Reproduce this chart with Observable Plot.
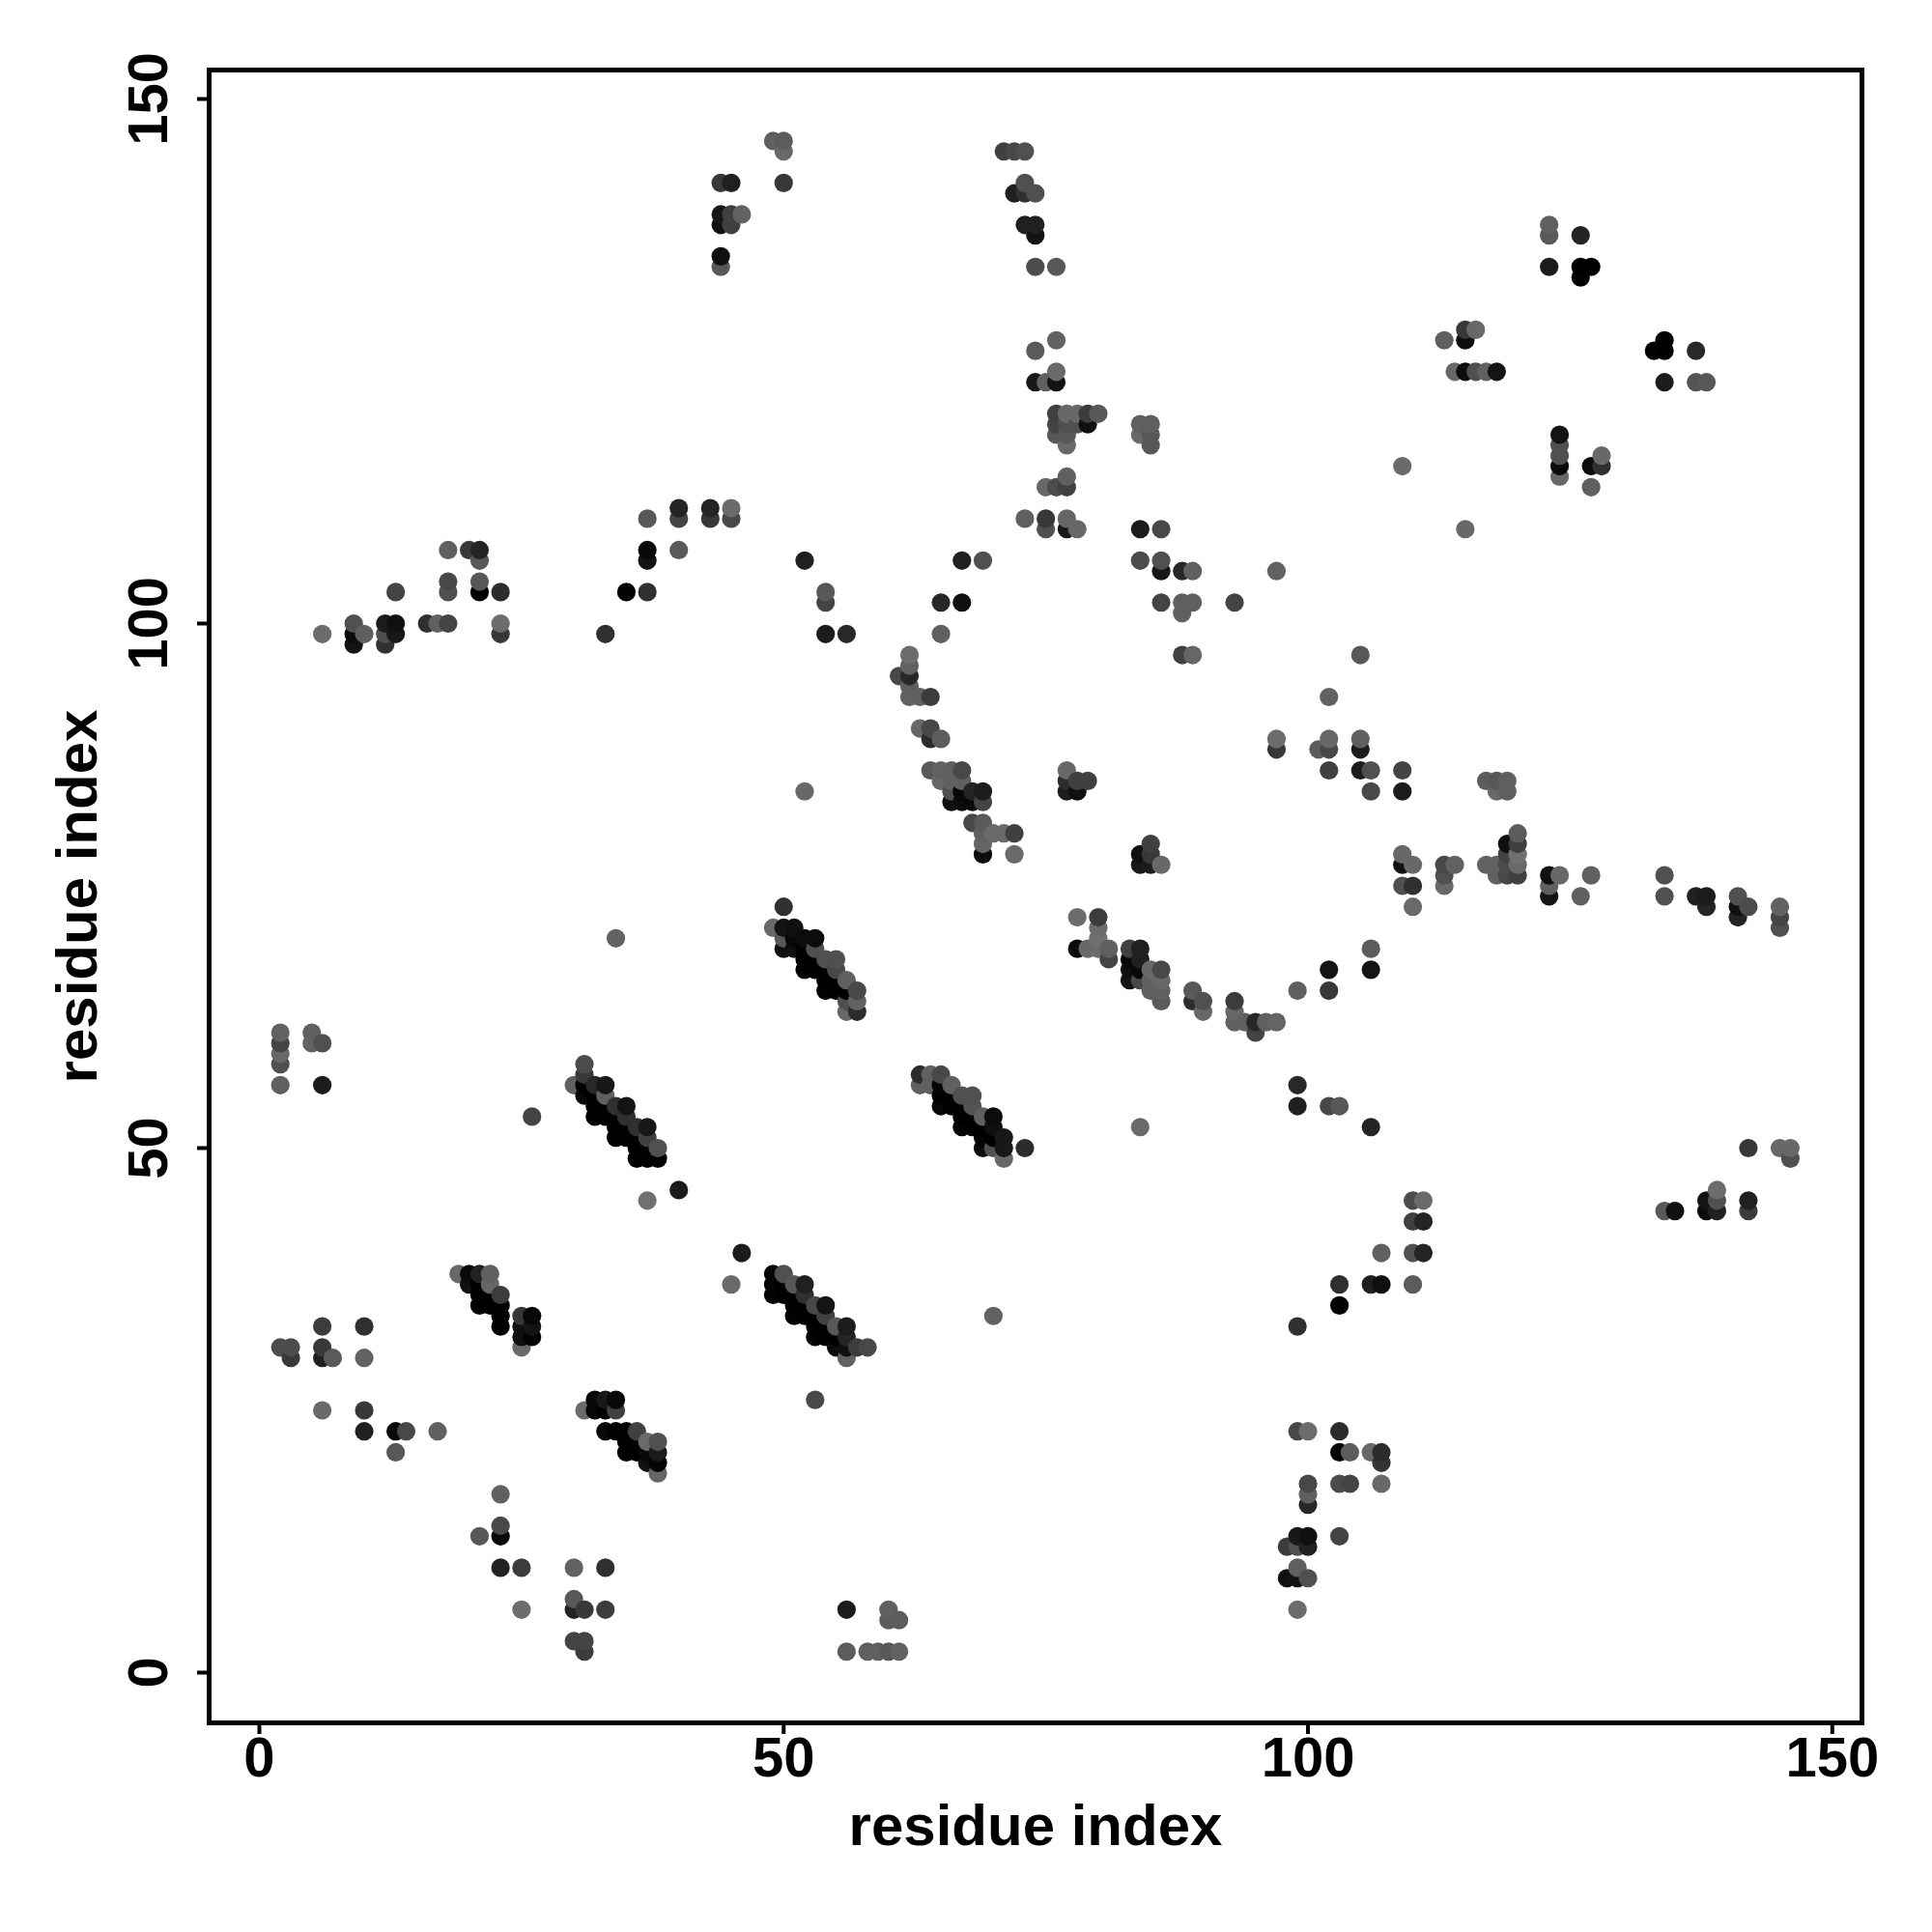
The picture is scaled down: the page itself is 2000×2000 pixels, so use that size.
<!DOCTYPE html>
<html>
<head>
<meta charset="utf-8">
<script src="https://cdn.jsdelivr.net/npm/d3@7"></script>
<script src="https://cdn.jsdelivr.net/npm/@observablehq/plot@0.6"></script>
<style>html,body{margin:0;padding:0;background:#fff}</style>
</head>
<body>
<div id="chart"></div>
<script>
// Each contact: [residue i, residue j, grey level]
const tickValues = [0, 50, 100, 150];
const axisLabel = "residue index";

const lowLeft = [
[2,31,76],[3,31,76],[3,30,56],[6,33,60],[6,31,56],[6,30,32],[7,30,90],[10,33,48],[10,30,98],[6,25,106],[10,25,56],[10,23,32],
[13,23,8],[14,23,72],[17,23,96],[13,21,88],[23,17,96],[23,14,72],[23,13,8],[21,13,88],[23,10,34],[25,10,60],[30,10,98],[33,10,48],
[25,6,108],[30,7,88],[30,6,36],[31,6,56],[33,6,60],[30,3,68],[31,3,68],[31,2,60]
];
const strandA = [
[19,38,104],[20,38,10],[21,38,34],[22,38,96],[22,37,102],[20,37,16],[21,37,0],[21,36,0],[23,36,60],[22,36,0],[21,35,0],[22,35,0],
[23,35,0],[23,34,0],[23,33,0],[25,34,56],[26,34,8],[25,33,16],[26,33,20],[25,32,16],[26,32,4],[25,31,106]
];
const strandB = [
[31,25,108],[32,26,8],[33,26,24],[34,26,8],[32,25,8],[33,25,0],[34,25,64],[33,23,8],[34,23,0],[35,23,0],[36,23,64],[35,22,0],
[36,22,0],[37,22,106],[38,22,80],[35,21,0],[36,21,0],[37,21,8],[38,21,26],[37,20,16],[38,20,4],[38,19,102]
];
const strandC = [
[31,58,76],[31,57,56],[30,56,96],[32,56,40],[33,56,24],[31,56,0],[31,55,8],[32,55,0],[33,55,96],[32,54,0],[33,54,0],[34,54,48],
[35,54,20],[32,53,0],[33,53,0],[34,53,0],[35,53,48],[34,52,0],[35,52,0],[36,52,48],[37,52,24],[34,51,0],[35,51,0],[36,51,0],
[37,51,64],[38,50,80],[36,50,0],[37,50,0],[36,49,0],[37,49,0],[38,49,0],[26,53,68],[37,45,112],[40,46,28]
];
const strandD = [
[49,38,4],[50,38,80],[49,37,4],[50,37,0],[51,37,88],[52,37,32],[49,36,4],[50,36,0],[51,36,0],[52,36,48],[51,35,0],[52,35,0],
[53,35,72],[54,35,20],[51,34,4],[52,34,0],[53,34,0],[54,34,64],[53,33,0],[54,33,0],[55,33,88],[56,33,28],[53,32,4],[54,32,0],
[55,32,0],[56,32,36],[55,31,12],[56,31,16],[57,31,60],[58,31,72],[56,30,98],[53,26,72],[46,40,28],[45,37,106],[70,34,98]
];
const strandE = [
[50,73,48],[49,71,104],[50,71,20],[51,71,16],[50,70,88],[51,70,8],[52,70,12],[53,70,12],[50,69,16],[51,69,16],[52,69,0],[53,69,80],
[52,68,0],[53,68,0],[54,68,80],[55,68,80],[52,67,4],[53,67,0],[54,67,0],[55,67,72],[54,66,0],[55,66,0],[56,66,96],[54,65,4],
[55,65,0],[56,65,0],[57,65,72],[56,64,80],[57,64,98],[56,63,104],[57,63,44],[34,70,98]
];
const strandF = [
[63,57,44],[64,57,96],[65,57,72],[63,56,96],[64,56,96],[65,56,4],[66,56,96],[65,55,0],[66,55,0],[67,55,80],[68,55,80],[65,54,8],
[66,54,0],[67,54,0],[68,54,84],[67,53,0],[68,53,0],[69,53,96],[70,53,12],[67,52,4],[68,52,0],[69,52,0],[70,52,16],[69,51,4],
[70,51,0],[71,51,24],[69,50,12],[70,50,80],[71,50,24],[73,50,44],[71,49,104],[84,52,106]
];
const midArc = [
[78,72,108],[80,72,60],[80,71,108],[80,70,112],[78,69,12],[79,69,104],[80,69,108],[81,69,96],[81,68,68],[83,69,64],[84,69,32],
[83,68,8],[84,68,32],[83,67,16],[84,67,8],[85,67,104],[86,67,72],[83,66,20],[84,66,72],[85,66,96],[86,66,104],[85,65,96],[86,65,96],
[86,64,90],[89,65,88],[89,64,44],[90,64,80],[90,63,104],[93,64,60],[93,63,104],[93,62,96],[94,62,96],[95,62,40],[95,61,68],[96,62,96],
[97,62,100],[99,65,96],[102,65,56],[102,67,20],[106,67,20],[106,69,92],[99,56,40],[99,54,32],[102,54,72],[103,54,88],[106,52,36]
];
const upperArc = [
[62,97,108],[62,96,98],[61,95,72],[62,95,40],[62,94,96],[62,93,98],[63,93,96],[64,93,60],[63,90,102],[64,90,72],[64,89,44],[65,89,92],
[64,86,88],[65,86,98],[66,86,96],[67,86,72],[65,85,104],[66,85,96],[67,85,96],[66,84,80],[67,84,8],[68,84,36],[69,84,28],[66,83,16],
[67,83,12],[68,83,8],[69,83,68],[68,81,72],[69,81,90],[69,80,96],[70,80,106],[71,80,106],[72,80,64],[69,79,100],[69,78,12],[72,78,106],
[77,86,104],[77,85,44],[78,85,64],[79,85,64],[77,84,28],[78,84,16],[85,79,64],[84,78,16],[85,78,56],[84,77,24],[85,77,28],[86,77,104],
[52,84,104]
];
const rightMid = [
[97,89,108],[97,88,56],[101,88,92],[102,89,104],[102,88,72],[102,86,64],[102,93,98],[105,97,88],[105,89,96],[105,88,28],[105,86,28],
[106,86,80],[106,84,72],[109,86,68],[109,84,28],[117,85,92],[118,85,88],[119,85,96],[118,84,104],[119,84,96],[109,78,104],[109,77,16],
[110,77,104],[109,75,80],[110,75,48],[110,73,106],[113,77,72],[114,77,98],[113,76,80],[113,75,104],[117,77,98],[118,77,98],[119,77,76],
[118,76,96],[119,76,72],[120,80,92],[119,79,16],[120,79,64],[119,78,68],[120,78,112],[120,77,106],[120,76,64],[123,76,16],[124,76,104],
[123,75,96],[123,74,20],[126,74,96],[127,76,96],[134,76,80],[134,74,80],[137,74,32],[138,74,28],[138,73,36],[141,74,80],[141,73,16],
[142,73,76],[141,72,36],[145,73,98],[145,72,68],[145,71,80]
];
const rightLow = [
[142,50,56],[145,50,104],[146,50,104],[146,49,80],[110,45,76],[111,45,106],[110,43,64],[111,43,36],[107,40,96],[110,40,80],[111,40,36],
[103,37,48],[106,37,32],[107,37,16],[110,37,92],[103,35,4],[99,33,48],[134,44,88],[135,44,16],[138,45,20],[138,44,12],[139,46,108],
[139,45,80],[139,44,32],[142,45,32],[142,44,60],[99,23,72],[100,23,108],[103,23,44],[103,21,4],[104,21,92],[106,21,104],[107,21,44],
[107,20,52],[103,18,76],[104,18,68],[107,18,104],[100,18,72],[100,17,96],[100,16,40],[103,13,68],[99,13,24],[100,13,16],[98,12,60],
[99,12,80],[100,12,32],[99,10,96],[98,9,16],[99,9,20],[100,9,80],[99,6,108]
];
const bottomMid = [
[56,6,28],[60,6,96],[60,5,92],[61,5,92],[56,2,92],[58,2,96],[59,2,96],[60,2,88],[61,2,98]
];
const midLeft = [
[2,61,98],[2,60,68],[2,59,104],[2,58,80],[2,56,96],[5,61,96],[5,60,98],[6,60,80],[6,56,28]
];
const topLeftBand = [
[6,99,108],[9,100,80],[9,99,12],[9,98,20],[10,99,96],[12,100,28],[13,100,16],[12,99,80],[13,99,24],[12,98,48],[13,103,68],[16,100,48],
[17,100,96],[18,100,68],[18,107,96],[20,107,56],[21,107,36],[21,106,88],[18,104,72],[18,103,80],[21,104,88],[21,103,0],[23,103,44],
[23,100,108],[23,99,56],[33,99,48],[35,103,4],[37,103,48],[37,106,20],[37,107,8],[37,110,88],[40,111,36],[40,110,68],[40,107,90],
[43,111,36],[43,110,56],[45,111,106],[45,110,72],[52,106,32],[54,103,88],[54,102,68],[54,99,28],[56,99,40],[65,99,96],[65,102,40],
[67,102,16],[67,106,32],[69,106,80]
];
const topRow = [
[49,146,96],[50,146,92],[50,145,104],[50,142,56],[44,142,56],[45,142,32],[44,139,24],[45,139,64],[46,139,98],[44,138,16],[45,138,64],
[44,135,16],[44,134,88],[71,145,64],[72,145,72],[73,145,80],[72,141,32],[73,142,80],[73,141,48],[74,141,80],[73,138,32],[74,138,32],
[74,137,20],[74,134,76],[76,134,88]
];
const upperMid = [
[76,127,98],[74,126,90],[76,124,106],[76,123,20],[75,123,96],[74,123,24],[76,120,64],[77,120,104],[78,120,104],[79,120,60],[80,120,88],
[76,119,68],[77,119,80],[78,119,80],[79,119,16],[76,118,88],[77,118,88],[77,117,104],[84,119,96],[85,119,96],[84,118,106],[85,118,88],
[85,117,88],[109,115,106],[77,114,96],[77,113,64],[76,113,76],[75,113,104],[75,110,56],[75,109,80],[77,110,102],[77,109,24],[78,109,104],
[73,110,96],[84,109,28],[86,109,72],[84,106,76],[86,106,80],[86,105,24],[88,105,40],[89,105,96],[97,105,98],[86,102,68],[88,102,96],
[89,102,96],[88,101,96],[88,97,64],[89,97,102],[93,102,68]
];
const upperRight = [
[123,138,96],[123,137,88],[126,137,36],[123,134,28],[126,134,0],[127,134,0],[126,133,4],[115,128,56],[116,128,104],[113,127,96],[115,127,12],
[114,124,104],[115,124,12],[116,124,80],[117,124,96],[118,124,20],[134,127,0],[133,126,4],[134,126,0],[137,126,40],[134,123,28],[137,123,84],
[138,123,88],[124,118,20],[124,117,80],[124,116,80],[124,115,12],[124,114,104],[127,115,12],[128,115,48],[128,116,104],[127,113,96],[115,109,104]
];

const seen = new Set();
const contacts = d3.sort(
  [lowLeft, strandA, strandB, strandC, strandD, strandE, strandF, midArc, upperArc, rightMid,
   rightLow, bottomMid, midLeft, topLeftBand, topRow, upperMid, upperRight]
    .flat()
    .filter(([i, j]) => { const k = i + "," + j; if (seen.has(k)) return false; seen.add(k); return true; })
    .map(([i, j, level]) => ({i, j, level})),
  d => d.i, d => d.j
);

const chart = Plot.plot({
  width: 2000,
  height: 2000,
  marginLeft: 216,
  marginRight: 73,
  marginTop: 72,
  marginBottom: 217,
  style: {fontFamily: "'Liberation Sans', Arial, sans-serif", fontWeight: "bold", fontSize: "58px", background: "#fff", color: "#000"},
  x: {domain: [-4.79, 152.83]},
  y: {domain: [-4.79, 152.76]},
  color: {type: "linear", domain: [0, 255], range: ["#000", "#fff"]},
  marks: [
    Plot.dot(contacts, {x: "i", y: "j", fill: "level", r: 9.6}),
    Plot.frame({stroke: "#000", strokeWidth: 5}),
    Plot.axisX({ticks: tickValues, tickSize: 12, tickPadding: 2, strokeWidth: 4, tickFormat: d => d, label: null}),
    Plot.axisY({ticks: tickValues, tickSize: 12, tickPadding: 32, strokeWidth: 4, tickFormat: d => d, tickRotate: -90, label: null}),
    Plot.text([axisLabel], {frameAnchor: "bottom", dy: 107, lineAnchor: "middle", textAnchor: "middle", fontSize: 60, text: d => d}),
    Plot.text([axisLabel], {frameAnchor: "left", dx: -136, rotate: -90, lineAnchor: "middle", textAnchor: "middle", fontSize: 60, text: d => d})
  ]
});
document.getElementById("chart").append(chart);
</script>
</body>
</html>
